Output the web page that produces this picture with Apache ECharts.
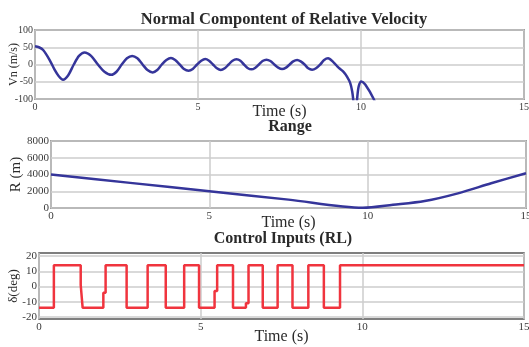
<!DOCTYPE html>
<html>
<head>
<meta charset="utf-8">
<script src="https://cdn.jsdelivr.net/npm/echarts@6/dist/echarts.min.js"></script>
<style>html,body{margin:0;padding:0;background:#fff;}#c{width:529px;height:347px;}</style>
</head>
<body>
<div id="c"></div>
<script>
// ---- data ----
var titles = ['Normal Compontent of Relative Velocity', 'Range', 'Control Inputs (RL)'];
var xName = 'Time (s)';
var yNames = ['Vn (m/s)', 'R (m)', '\u03b4(deg)'];
var xTicks = [0, 5, 10, 15];
var vnTicks = [-100, -50, 0, 50, 100];
var rangeTicks = [0, 2000, 4000, 6000, 8000];
var deltaTicks = [-20, -10, 0, 10, 20];

var vnTime = [0, 0.12, 0.25, 0.45, 0.6, 0.73, 0.86, 1.02, 1.19, 1.35, 1.52, 1.72, 1.93, 2.13, 2.34, 2.5, 2.66, 2.82, 2.98, 3.14, 3.3, 3.45, 3.61, 3.75, 3.89, 4.03, 4.17, 4.3, 4.44, 4.57, 4.71, 4.84, 4.97, 5.1, 5.22, 5.34, 5.46, 5.58, 5.70, 5.82, 5.94, 6.06, 6.18, 6.3, 6.41, 6.52, 6.64, 6.75, 6.87, 6.98, 7.1, 7.22, 7.34, 7.46, 7.58, 7.7, 7.81, 7.92, 8.04, 8.15, 8.27, 8.38, 8.5, 8.62, 8.75, 8.87, 8.99, 9.15, 9.32, 9.45, 9.57, 9.67, 9.73, 9.76, 9.82, 9.88, 9.93, 10.01, 10.13, 10.39, 10.5];
var vnValue = [53, 50, 42, 13, -15, -34, -44, -31, 0, 25, 35, 25, 0, -21, -30, -21, 0, 18, 25, 18, 0, -16, -23, -16, 0, 13, 19, 13, 0, -13, -18, -13, 0, 11, 16, 11, 0, -11, -16, -11, 0, 11, 15, 11, 0, -10, -14, -10, 0, 10, 14, 10, 0, -9, -13, -9, 0, 9, 13, 9, 0, -11, -15, -11, 0, 13, 18, 7, -10, -20, -35, -54, -78, -100, -160, -100, -63, -49, -58, -100, -130];

var rangeTime = [0, 2.5, 5, 7.5, 9.85, 10.8, 11.8, 12.85, 13.9, 15];
var rangeValue = [4000, 3000, 2000, 1000, 20, 380, 830, 1750, 2950, 4150];

var deltaTime = [0, 0.46, 1.29, 1.35, 1.99, 2.06, 2.71, 3.36, 3.92, 4.49, 4.95, 5.43, 5.51, 6.0, 6.4, 6.48, 6.92, 7.38, 7.84, 8.33, 8.81, 9.31, 15];
var deltaValue = [-14, 14, 1, -14, -4, 14, -14, 14, -14, 14, -14, -3, 14, -14, -11, 14, -14, 14, -14, 14, -14, 14, 14];

function pairs(xs, ys) { return xs.map(function (x, i) { return [x, ys[i]]; }); }

var FONT = 'Liberation Serif';
var BORDER = '#555';
var GRIDC = '#cccccc';
var grids = [
  {left: 35, right: 5, top: 30, height: 69},
  {left: 51, right: 3, top: 141, height: 67},
  {left: 39, right: 5, top: 253, height: 66}
];
var titleTops = [11, 119, 231];
var titleLefts = [284, 290, 283];
var titleSizes = [16.5, 16, 16];
var xNameGaps = [5, 7, 10];
var xLabelSizes = [10, 11, 11];
var yLabelSizes = [10, 11, 11];
var yNameSizes = [12, 15, 13];
var yNameGaps = [15, 27, 19];

var option = {
  backgroundColor: '#fff',
  animation: false,
  title: titles.map(function (t, i) {
    return {text: t, left: titleLefts[i], top: titleTops[i], textAlign: 'center', padding: 0,
      textStyle: {fontFamily: FONT, fontWeight: 'bold', fontSize: titleSizes[i], color: '#2a2a2a'}};
  }),
  grid: grids.map(function (g) {
    return Object.assign({show: true, borderColor: BORDER, borderWidth: 1.5, backgroundColor: 'transparent',
      containLabel: false, outerBoundsMode: 'none'}, g);
  }),
  xAxis: [0, 1, 2].map(function (i) {
    return {type: 'value', gridIndex: i, min: xTicks[0], max: xTicks[xTicks.length - 1], interval: 5,
      name: xName, nameLocation: 'middle', nameGap: xNameGaps[i], nameMoveOverlap: false,
      nameTextStyle: {fontFamily: FONT, fontSize: 16, color: '#2a2a2a', verticalAlign: 'top'},
      axisLine: {show: false}, axisTick: {show: false},
      axisLabel: {fontFamily: FONT, fontSize: xLabelSizes[i], color: '#3a3a3a', margin: 3},
      splitLine: {show: true, lineStyle: {color: GRIDC, width: 1.5}}};
  }),
  yAxis: [
    {type: 'value', gridIndex: 0, min: vnTicks[0], max: vnTicks[vnTicks.length - 1], interval: 50},
    {type: 'value', gridIndex: 1, min: rangeTicks[0], max: rangeTicks[rangeTicks.length - 1], interval: 2000},
    {type: 'value', gridIndex: 2, min: -21.3, max: 22,
      axisLabel: {customValues: deltaTicks}, axisTick: {customValues: deltaTicks}}
  ].map(function (a, i) {
    return Object.assign({}, a, {
      name: yNames[i], nameLocation: 'middle', nameGap: yNameGaps[i], nameRotate: 90, nameMoveOverlap: false,
      nameTextStyle: {fontFamily: FONT, fontSize: yNameSizes[i], color: '#2a2a2a'},
      axisLine: {show: false},
      axisTick: Object.assign({show: false}, a.axisTick || {}),
      axisLabel: Object.assign({fontFamily: FONT, fontSize: yLabelSizes[i], color: '#3a3a3a', margin: 2,
        formatter: function (v) { return String(v); }}, a.axisLabel || {}),
      splitLine: {show: true, lineStyle: {color: GRIDC, width: 1.5}}
    });
  }),
  series: [
    {type: 'line', xAxisIndex: 0, yAxisIndex: 0, data: pairs(vnTime, vnValue), smooth: 0.3, showSymbol: false, clip: true,
      lineStyle: {color: '#35359a', width: 2.5}},
    {type: 'line', xAxisIndex: 1, yAxisIndex: 1, data: pairs(rangeTime, rangeValue), smooth: 0.3, showSymbol: false, clip: true,
      lineStyle: {color: '#35359a', width: 2.5}},
    {type: 'line', xAxisIndex: 2, yAxisIndex: 2, data: pairs(deltaTime, deltaValue), step: 'end', showSymbol: false, clip: true,
      lineStyle: {color: '#f0343e', width: 2.5}}
  ]
};
var chart = echarts.init(document.getElementById('c'), null, {renderer: 'canvas'});
chart.setOption(option);
</script>
</body>
</html>
